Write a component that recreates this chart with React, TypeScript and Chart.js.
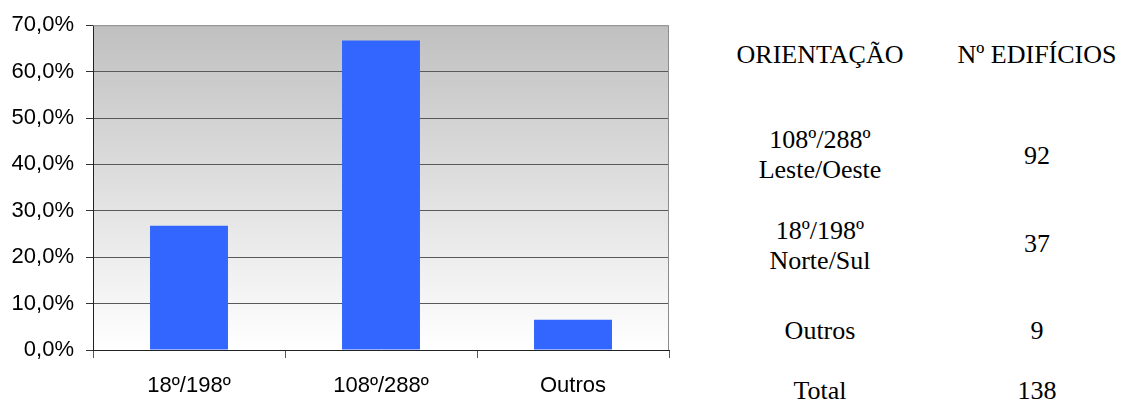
import React, { useEffect, useRef } from "react";
import { Chart, registerables } from "chart.js";

Chart.register(...registerables);

// Share of buildings per orientation (%)
const categories = ["18º/198º", "108º/288º", "Outros"];
const shares = [26.8, 66.7, 6.5];
const yTicks = [0, 10, 20, 30, 40, 50, 60, 70];

// Summary table
const tableHeader = ["ORIENTAÇÃO", "Nº EDIFÍCIOS"];
const tableOrientations = [
  ["108º/288º", "Leste/Oeste"],
  ["18º/198º", "Norte/Sul"],
  ["Outros"],
];
const tableCounts = [92, 37, 9];
const totalLabel = "Total";
const totalCount = 138;

const SANS = '"Liberation Sans", Arial, sans-serif';
const SERIF = '"Liberation Serif", "Times New Roman", serif';

// Grey-to-white plot background plus the light top/right frame
const plotFrame = {
  id: "plotFrame",
  beforeDraw(chart: any) {
    const { ctx, chartArea: a } = chart;
    const g = ctx.createLinearGradient(0, a.top, 0, a.bottom);
    g.addColorStop(0, "#c0c0c0");
    g.addColorStop(1, "#ffffff");
    ctx.save();
    ctx.fillStyle = g;
    ctx.fillRect(a.left, a.top, a.right - a.left, a.bottom - a.top);
    ctx.restore();
  },
  afterDraw(chart: any) {
    const { ctx, chartArea: a } = chart;
    ctx.save();
    ctx.strokeStyle = "#8c8c8c";
    ctx.lineWidth = 1;
    ctx.beginPath();
    ctx.moveTo(a.left, a.top + 0.5);
    ctx.lineTo(a.right - 0.5, a.top + 0.5);
    ctx.lineTo(a.right - 0.5, a.bottom);
    ctx.stroke();
    ctx.restore();
  },
};

function BarChart() {
  const ref = useRef<HTMLCanvasElement | null>(null);
  useEffect(() => {
    if (!ref.current) return;
    const chart = new Chart(ref.current, {
      type: "bar",
      data: {
        labels: categories,
        datasets: [
          {
            data: shares,
            backgroundColor: "#3366ff",
            borderWidth: 0,
            barPercentage: 0.406,
            categoryPercentage: 1,
          },
        ],
      },
      options: {
        responsive: false,
        animation: false,
        layout: { padding: { top: 24, right: 31, left: 0, bottom: 0 } },
        plugins: { legend: { display: false }, tooltip: { enabled: false } },
        scales: {
          x: {
            offset: true,
            grid: {
              offset: true,
              drawOnChartArea: false,
              tickLength: 8,
              tickColor: "#555555",
            },
            border: { display: true, color: "#222222", width: 1 },
            ticks: {
              color: "#000000",
              padding: 15,
              font: { family: SANS, size: 22 },
            },
            afterFit(scale: any) {
              scale.height = 53;
            },
          },
          y: {
            min: 0,
            max: 70,
            afterBuildTicks(scale: any) {
              scale.ticks = yTicks.map((v) => ({ value: v }));
            },
            grid: {
              color: (c: any) => (c.tick && c.tick.value === 70 ? "rgba(0,0,0,0)" : "#595959"),
              tickLength: 7,
              tickColor: "#333333",
            },
            border: { display: true, color: "#222222", width: 1 },
            ticks: {
              color: "#000000",
              padding: 12,
              font: { family: SANS, size: 22 },
              callback: (v: any) => Number(v).toFixed(1).replace(".", ",") + "%",
            },
            afterFit(scale: any) {
              scale.width = 93;
            },
          },
        },
      },
      plugins: [plotFrame],
    });
    return () => chart.destroy();
  }, []);
  return <canvas ref={ref} width={700} height={403} style={{ position: "absolute", left: 0, top: 0 }} />;
}

const LEFT_COL = 820;
const RIGHT_COL = 1037;
const COL_W = 200;

function Cell({ x, top, lines }: { x: number; top: number; lines: string[] }) {
  return (
    <div
      style={{
        position: "absolute",
        left: x - COL_W / 2,
        top,
        width: COL_W,
        textAlign: "center",
        fontFamily: SERIF,
        fontSize: 26,
        lineHeight: "30px",
        color: "#000",
        whiteSpace: "nowrap",
      }}
    >
      {lines.map((l, i) => (
        <div key={i}>{l}</div>
      ))}
    </div>
  );
}

export default function App() {
  const rowTops = [125, 216, 316];
  const countTops = [141, 229, 316];
  return (
    <div style={{ position: "absolute", left: 0, top: 0, width: 1126, height: 403, background: "#fff", overflow: "hidden" }}>
      <BarChart />
      <Cell x={LEFT_COL} top={40} lines={[tableHeader[0]]} />
      <Cell x={RIGHT_COL} top={40} lines={[tableHeader[1]]} />
      {tableOrientations.map((o, i) => (
        <Cell key={"o" + i} x={LEFT_COL} top={rowTops[i]} lines={o} />
      ))}
      {tableCounts.map((c, i) => (
        <Cell key={"c" + i} x={RIGHT_COL} top={countTops[i]} lines={[String(c)]} />
      ))}
      <Cell x={LEFT_COL} top={376} lines={[totalLabel]} />
      <Cell x={RIGHT_COL} top={376} lines={[String(totalCount)]} />
    </div>
  );
}
